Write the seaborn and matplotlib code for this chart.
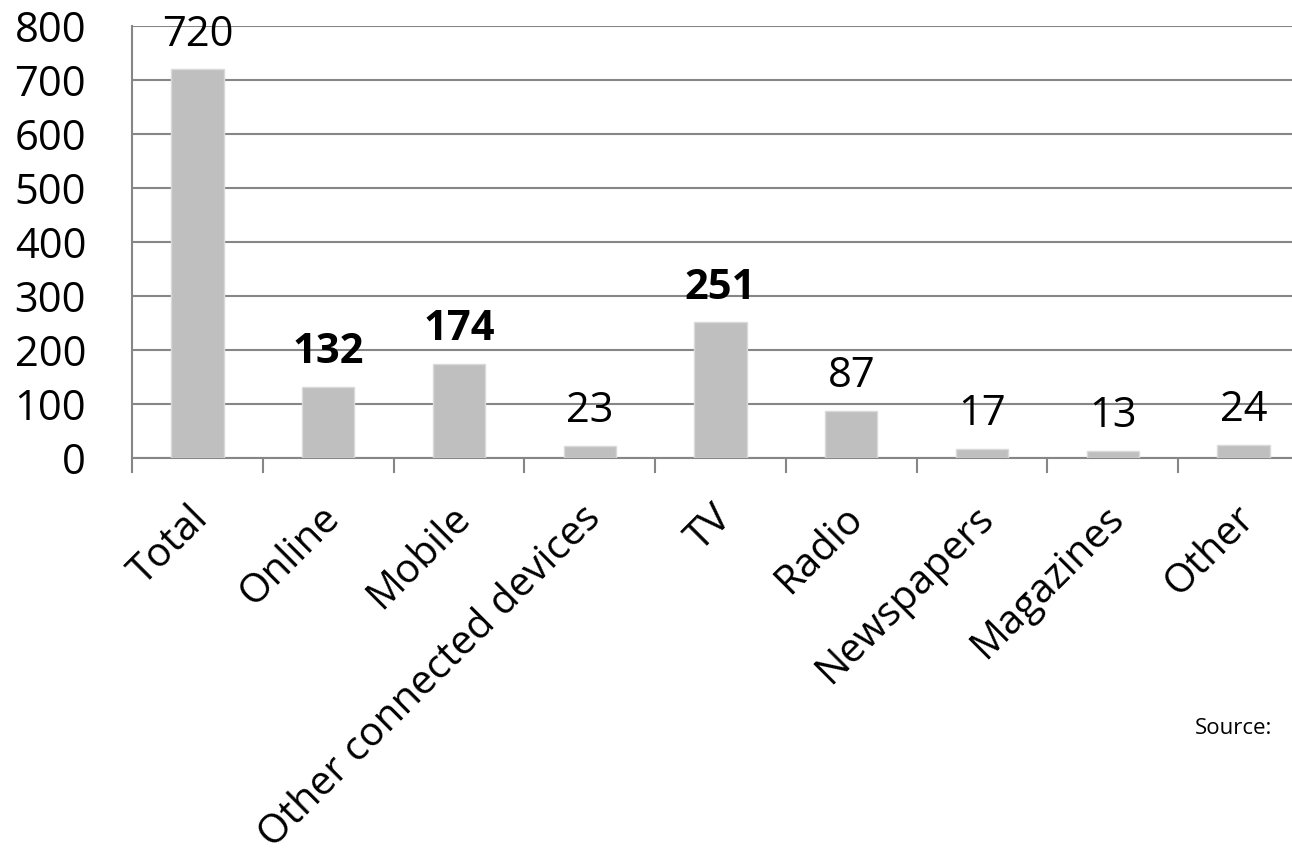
import matplotlib
matplotlib.use("Agg")
import matplotlib.pyplot as plt
import matplotlib.transforms as mtransforms
import seaborn as sns
import pandas as pd

# Media categories and their values
categories = ["Total", "Online", "Mobile", "Other connected devices", "TV",
              "Radio", "Newspapers", "Magazines", "Other"]
values = [720, 132, 174, 23, 251, 87, 17, 13, 24]
bold_labels = ["Online", "Mobile", "TV"]
y_ticks = [0, 100, 200, 300, 400, 500, 600, 700, 800]

sns.set_style("white")
plt.rcParams["font.family"] = ["Open Sans", "DejaVu Sans"]
plt.rcParams["text.color"] = "black"
plt.rcParams["xtick.labelcolor"] = "black"
plt.rcParams["ytick.labelcolor"] = "black"

W, H, DPI = 1292, 859, 100
fig = plt.figure(figsize=(W / DPI, H / DPI), dpi=DPI)
# plot area runs past the right edge of the canvas
ax = fig.add_axes([132 / W, (H - 458) / H, (1309 - 132) / W, (458 - 26) / H])

df = pd.DataFrame({"category": categories, "value": values})
sns.barplot(data=df, x="category", y="value", color="#BFBFBF", width=0.4,
            saturation=1, edgecolor="#D9D9D9", linewidth=1, ax=ax, zorder=3)

grid_c = "#868686"
ax.set_ylim(0, 800)
ax.set_xlim(-0.5, len(categories) - 0.5)
ax.set_yticks(y_ticks)
ax.set_yticklabels([str(t) for t in y_ticks], fontsize=30)
ax.yaxis.grid(True, color=grid_c, linewidth=1.5, zorder=0)
ax.set_axisbelow(True)
ax.tick_params(axis="y", length=11, width=1.5, color=grid_c, pad=22,
               labelcolor="black")

# category labels at bar centres, tick marks at category boundaries
ax.set_xticks(range(len(categories)))
ax.set_xticklabels(categories, fontsize=29, rotation=45, ha="right",
                   va="top", rotation_mode="anchor")
ax.tick_params(axis="x", which="major", length=0, pad=29, labelcolor="black")
ax.set_xticks([i - 0.5 for i in range(len(categories) + 1)], minor=True)
ax.tick_params(axis="x", which="minor", length=11, width=1.5, color=grid_c,
               direction="out", bottom=True)
shift = mtransforms.ScaledTranslation(-9 / DPI, 0, fig.dpi_scale_trans)
for lab in ax.get_xticklabels():
    lab.set_transform(lab.get_transform() + shift)

for s in ["top", "right"]:
    ax.spines[s].set_visible(False)
for s in ["left", "bottom"]:
    ax.spines[s].set_color(grid_c)
    ax.spines[s].set_linewidth(1.5)

ax.set_xlabel("")
ax.set_ylabel("")

# value labels above bars
for i, (c, v) in enumerate(zip(categories, values)):
    ax.annotate(str(v), (i, v), xytext=(0, 17), textcoords="offset points",
                ha="center", va="baseline", fontsize=30, color="black",
                fontweight="bold" if c in bold_labels else "normal")

fig.text(1195 / W, 1 - 728 / H, "Source:", fontsize=16, va="center",
         ha="left", color="black")

fig.savefig("out.png", dpi=DPI)
